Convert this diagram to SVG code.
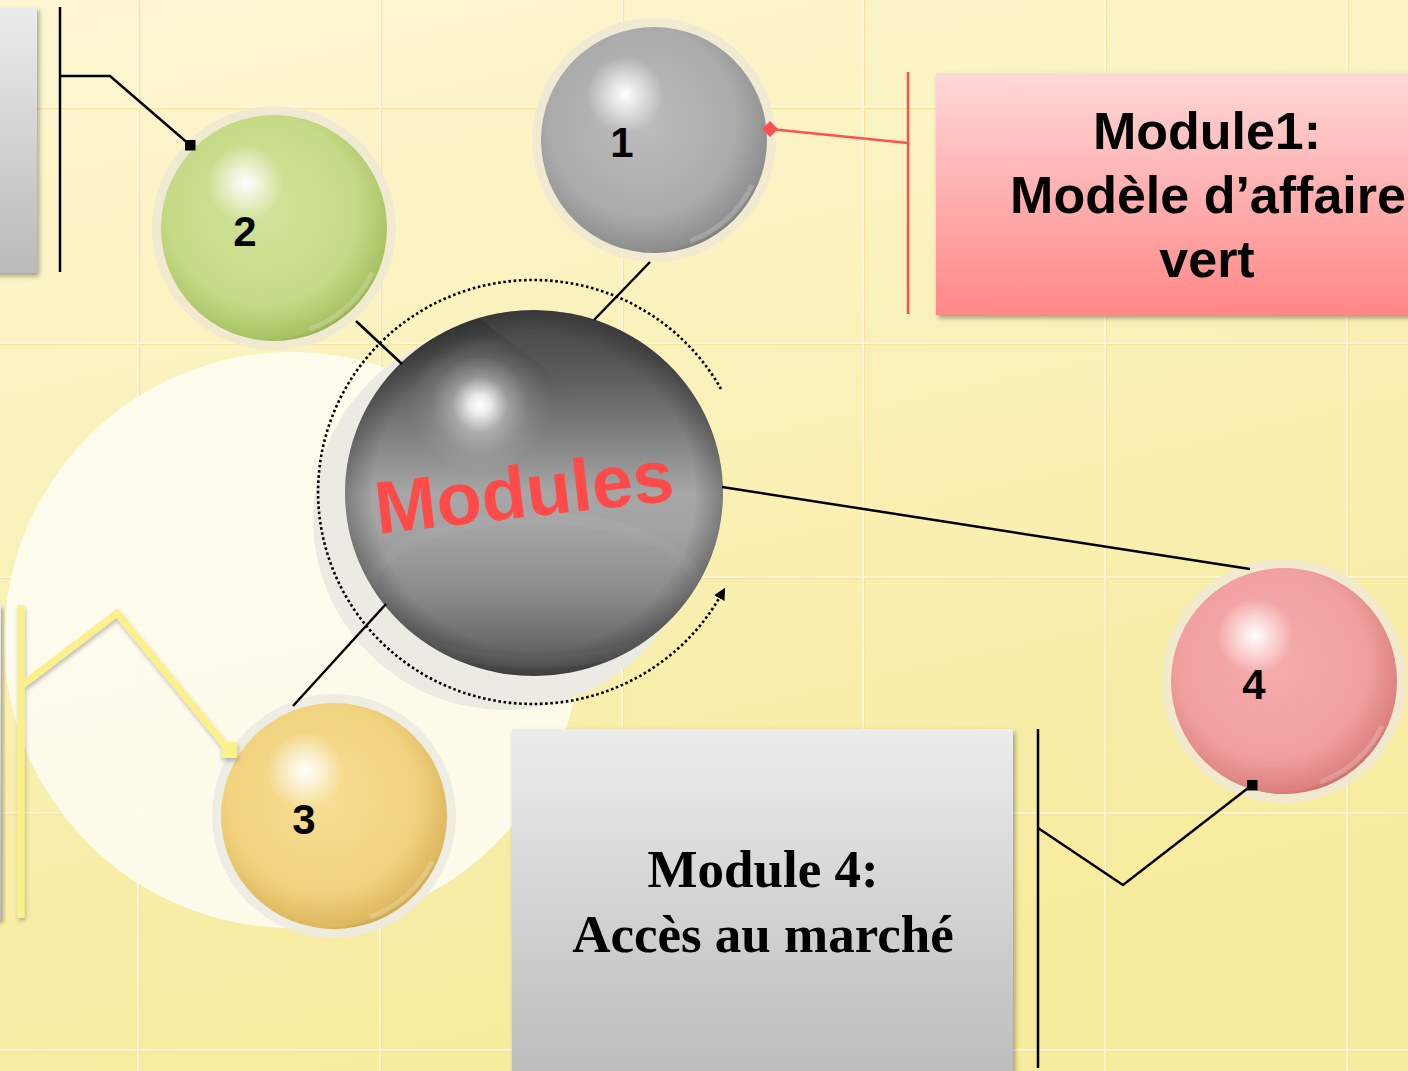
<svg xmlns="http://www.w3.org/2000/svg" width="1408" height="1071" viewBox="0 0 1408 1071">
<defs>
<style>
.num{font-family:"Liberation Sans",Arial,sans-serif;font-weight:bold;font-size:42px;fill:#000;text-anchor:middle}
.t1{font-family:"Liberation Sans",Arial,sans-serif;font-weight:bold;font-size:52px;fill:#000;text-anchor:middle}
.t4{font-family:"Liberation Serif","Times New Roman",serif;font-weight:bold;font-size:53px;fill:#000;text-anchor:middle}
.grid{stroke:#fdf9e4;stroke-width:1.6;fill:none}
.grid2{stroke:#f7e49a;stroke-width:1.4;fill:none}
.halo{fill:#efe9d3;opacity:.9}
.hl{fill:url(#hl)}
.gloss{fill:none;stroke:#fff;stroke-opacity:.2;stroke-width:5}
.con{fill:none;stroke:#000;stroke-width:2.5}
</style>
<linearGradient id="bg" x1="0" y1="0" x2="0.3" y2="1">
<stop offset="0" stop-color="#fcf6d2"/>
<stop offset="1" stop-color="#f7eb9d"/>
</linearGradient>
<radialGradient id="hl" cx="0.372" cy="0.30" r="0.17">
<stop offset="0" stop-color="#fff" stop-opacity="1"/>
<stop offset="0.3" stop-color="#fff" stop-opacity="0.7"/>
<stop offset="1" stop-color="#fff" stop-opacity="0"/>
</radialGradient>
<radialGradient id="gGray" cx="0.45" cy="0.42" r="0.6">
<stop offset="0" stop-color="#bdbdbd"/>
<stop offset="0.7" stop-color="#aaaaaa"/>
<stop offset="0.95" stop-color="#8e8e8e"/>
<stop offset="1" stop-color="#7a7a7a"/>
</radialGradient>
<radialGradient id="gGreen" cx="0.45" cy="0.42" r="0.6">
<stop offset="0" stop-color="#d2e49a"/>
<stop offset="0.7" stop-color="#c5da86"/>
<stop offset="0.95" stop-color="#a8c264"/>
<stop offset="1" stop-color="#92ad50"/>
</radialGradient>
<radialGradient id="gYellow" cx="0.45" cy="0.42" r="0.6">
<stop offset="0" stop-color="#f8df96"/>
<stop offset="0.7" stop-color="#f1d27e"/>
<stop offset="0.95" stop-color="#dcb85e"/>
<stop offset="1" stop-color="#c9a14a"/>
</radialGradient>
<radialGradient id="gPink" cx="0.45" cy="0.42" r="0.6">
<stop offset="0" stop-color="#f6abab"/>
<stop offset="0.7" stop-color="#f1a0a0"/>
<stop offset="0.95" stop-color="#dc8080"/>
<stop offset="1" stop-color="#c96a6a"/>
</radialGradient>
<linearGradient id="gCenter" x1="0" y1="0" x2="0" y2="1">
<stop offset="0" stop-color="#3e3e3e"/>
<stop offset="0.12" stop-color="#4c4c4c"/>
<stop offset="0.3" stop-color="#767676"/>
<stop offset="0.5" stop-color="#a6a6a6"/>
<stop offset="0.6" stop-color="#a3a3a3"/>
<stop offset="0.78" stop-color="#8a8a8a"/>
<stop offset="0.93" stop-color="#666"/>
<stop offset="1" stop-color="#515151"/>
</linearGradient>
<radialGradient id="gEdge" cx="0.5" cy="0.5" r="0.5">
<stop offset="0.85" stop-color="#000" stop-opacity="0"/>
<stop offset="1" stop-color="#000" stop-opacity="0.25"/>
</radialGradient>
<radialGradient id="hlC" cx="0.5" cy="0.5" r="0.5">
<stop offset="0" stop-color="#fff" stop-opacity="1"/>
<stop offset="0.15" stop-color="#fff" stop-opacity="0.85"/>
<stop offset="0.4" stop-color="#fff" stop-opacity="0.35"/>
<stop offset="0.7" stop-color="#fff" stop-opacity="0.1"/>
<stop offset="1" stop-color="#fff" stop-opacity="0"/>
</radialGradient>
<linearGradient id="sheen" x1="0" y1="0" x2="0" y2="1">
<stop offset="0" stop-color="#fff" stop-opacity="0.07"/>
<stop offset="1" stop-color="#fff" stop-opacity="0"/>
</linearGradient>
<linearGradient id="gBox" x1="0" y1="0" x2="0" y2="1">
<stop offset="0" stop-color="#ececec"/>
<stop offset="1" stop-color="#bababa"/>
</linearGradient>
<linearGradient id="gPinkBox" x1="0" y1="0" x2="0" y2="1">
<stop offset="0" stop-color="#ffd8d8"/>
<stop offset="1" stop-color="#ff8787"/>
</linearGradient>
<filter id="sh" x="-10%" y="-10%" width="130%" height="130%">
<feDropShadow dx="2" dy="3" stdDeviation="2.5" flood-color="#000" flood-opacity="0.35"/>
</filter>
<filter id="shY" x="-10%" y="-10%" width="130%" height="130%">
<feDropShadow dx="1" dy="3" stdDeviation="2" flood-color="#000" flood-opacity="0.25"/>
</filter>
<clipPath id="clipC"><ellipse cx="534" cy="493" rx="189" ry="183"/></clipPath>
<marker id="sqB" markerUnits="userSpaceOnUse" markerWidth="11" markerHeight="11" refX="5.5" refY="5.5" viewBox="0 0 11 11" orient="0"><rect width="11" height="11" fill="#000"/></marker>
<marker id="sqY" markerUnits="userSpaceOnUse" markerWidth="16" markerHeight="16" refX="8" refY="8" viewBox="0 0 16 16" orient="0"><rect width="16" height="16" fill="#fbf08a"/></marker>
<marker id="dmR" markerUnits="userSpaceOnUse" markerWidth="16" markerHeight="16" refX="8" refY="8" viewBox="0 0 16 16" orient="0"><path d="M8,0 L16,8 L8,16 L0,8 z" fill="#ff5050"/></marker>
<marker id="arr" markerUnits="userSpaceOnUse" markerWidth="12" markerHeight="12" refX="3" refY="5" viewBox="0 0 10 10" orient="auto"><path d="M0,0 L10,5 L0,10 z" fill="#000"/></marker>
</defs>

<g id="background">
<rect width="1408" height="1071" fill="url(#bg)"/>
<path class="grid2" d="M139.5,0V1071M381.5,0V1071M623.5,0V1071M864.5,0V1071M1106.5,0V1071M1348.5,0V1071M0,108.5H1408M0,344.5H1408M0,578.5H1408M0,814.5H1408M0,1051.5H1408"/>
<path class="grid" d="M138,0V1071M380,0V1071M622,0V1071M863,0V1071M1105,0V1071M1347,0V1071M0,107H1408M0,343H1408M0,577H1408M0,813H1408M0,1050H1408"/>
<circle cx="292" cy="640" r="288" fill="#fefdf4" opacity="0.88"/>
<circle cx="505" cy="518" r="192" fill="#ebebe4"/>
</g>

<g id="box-left-top" filter="url(#sh)">
<rect x="-10" y="7" width="47" height="266" fill="url(#gBox)"/>
</g>
<g id="box-left-bottom" filter="url(#sh)">
<rect x="-20" y="605" width="21" height="315" fill="url(#gBox)"/>
</g>

<g id="box-module1" filter="url(#sh)">
<rect x="936" y="73" width="490" height="242" fill="url(#gPinkBox)"/>
<text class="t1" x="1207" y="149">Module1:</text>
<text class="t1" x="1208" y="213">Modèle d’affaire</text>
<text class="t1" x="1207" y="277">vert</text>
</g>

<g id="box-module4" filter="url(#sh)">
<rect x="512" y="729" width="501" height="360" fill="url(#gBox)"/>
<text class="t4" x="763" y="887">Module 4:</text>
<text class="t4" x="763" y="952">Accès au marché</text>
</g>

<g id="center">
<ellipse cx="534" cy="493" rx="189" ry="183" fill="url(#gCenter)"/>
<g clip-path="url(#clipC)">
<path d="M455,300 L600,410 L760,410 L760,300 z" fill="url(#sheen)"/>
<ellipse cx="534" cy="590" rx="165" ry="72" fill="none" stroke="#fff" stroke-opacity="0.04" stroke-width="12"/>
</g>
<ellipse cx="534" cy="493" rx="189" ry="183" fill="url(#gEdge)"/>
<circle cx="480" cy="405" r="70" fill="url(#hlC)"/>
<text x="525" y="517" transform="rotate(-6.4 526 500)" font-family="'Liberation Sans',Arial,sans-serif" font-weight="bold" font-size="74" fill="#ff4a4a" text-anchor="middle">Modules</text>
</g>

<g id="node-1">
<circle class="halo" cx="654" cy="140" r="122"/>
<circle cx="654" cy="140" r="113" fill="url(#gGray)"/>
<path class="gloss" d="M752,185 A107,107 0 0 1 690,241"/>
<circle class="hl" cx="654" cy="140" r="113"/>
<text class="num" x="622" y="157">1</text>
</g>

<g id="node-2">
<circle class="halo" cx="274" cy="228" r="122"/>
<circle cx="274" cy="228" r="113" fill="url(#gGreen)"/>
<path class="gloss" d="M372,273 A107,107 0 0 1 310,329"/>
<circle class="hl" cx="274" cy="228" r="113"/>
<text class="num" x="245" y="246">2</text>
</g>

<g id="node-3">
<circle cx="334" cy="816" r="122" fill="#ecebe3" opacity="0.9"/>
<circle cx="334" cy="816" r="113" fill="url(#gYellow)"/>
<path class="gloss" d="M432,861 A107,107 0 0 1 370,917"/>
<circle class="hl" cx="334" cy="816" r="113"/>
<text class="num" x="304" y="834">3</text>
</g>

<g id="node-4">
<circle class="halo" cx="1284" cy="681" r="122"/>
<circle cx="1284" cy="681" r="113" fill="url(#gPink)"/>
<path class="gloss" d="M1382,726 A107,107 0 0 1 1320,782"/>
<circle class="hl" cx="1284" cy="681" r="113"/>
<text class="num" x="1254" y="699">4</text>
</g>

<g id="connectors">
<line class="con" x1="594" y1="320" x2="650" y2="262"/>
<line class="con" x1="356" y1="321" x2="402" y2="364"/>
<line class="con" x1="386" y1="604" x2="293" y2="706"/>
<line class="con" x1="722" y1="487" x2="1250" y2="569"/>
<path d="M721,389 A215,212 0 1 0 721,595" fill="none" stroke="#000" stroke-width="2.6" stroke-dasharray="2.6 2.6" marker-end="url(#arr)"/>
<line x1="60" y1="7" x2="60" y2="272" stroke="#000" stroke-width="2.5"/>
<polyline class="con" points="60,76 110,76 190,145" marker-end="url(#sqB)"/>
<line x1="908" y1="72" x2="908" y2="314" stroke="#ff5050" stroke-width="2.5"/>
<polyline points="908,143 770,129" fill="none" stroke="#ff5050" stroke-width="2.5" marker-end="url(#dmR)"/>
<g filter="url(#shY)">
<line x1="21" y1="605" x2="21" y2="918" stroke="#fbf08a" stroke-width="7"/>
<polyline points="21,686 117,613 229,750" fill="none" stroke="#fbf08a" stroke-width="7" stroke-linejoin="miter" marker-end="url(#sqY)"/>
</g>
<line x1="1038" y1="729" x2="1038" y2="1068" stroke="#000" stroke-width="2.5"/>
<polyline class="con" points="1038,828 1123,885 1252,785" marker-end="url(#sqB)"/>
</g>
</svg>
